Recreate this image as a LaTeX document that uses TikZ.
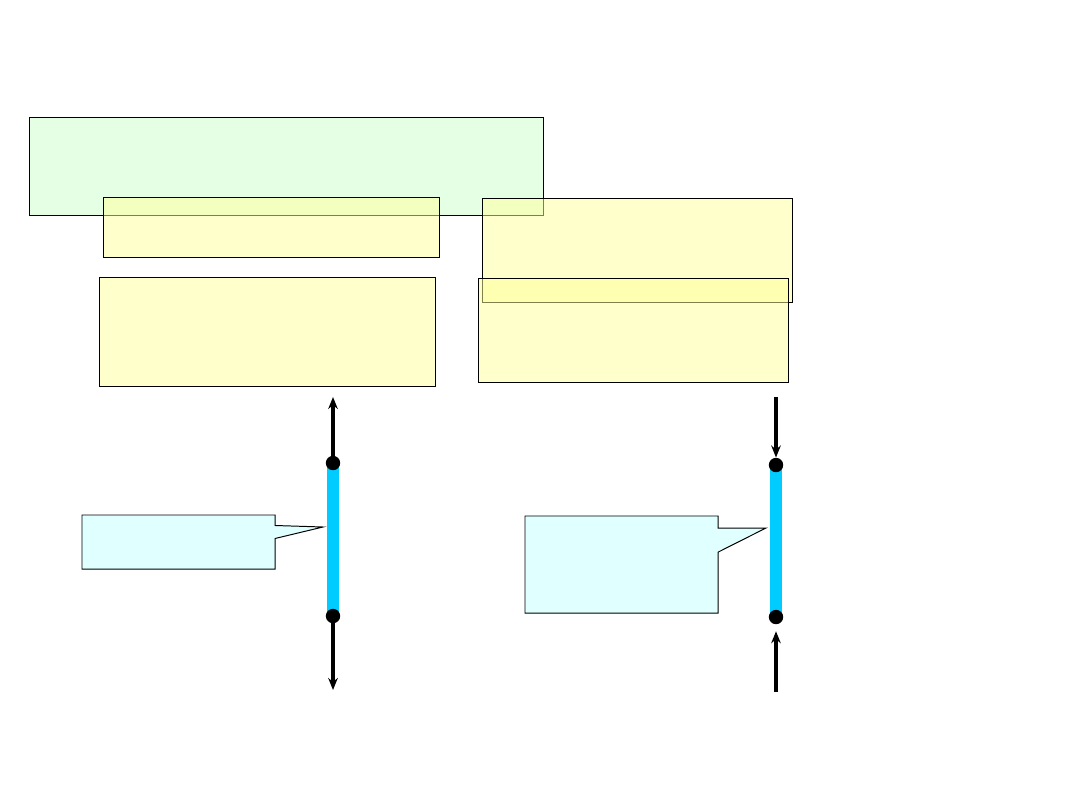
\documentclass[tikz,border=0pt]{standalone}
\usepackage{tikz}
\usetikzlibrary{arrows.meta, positioning, shapes.callouts, backgrounds}

\begin{document}
\begin{tikzpicture}[x=0.025cm, y=-0.025cm,
      box/.style={draw, line width=0.7pt, anchor=north west, outer sep=0pt,
                  inner sep=0pt, fill opacity=0.5},
      topbox/.style={box, fill={rgb,255:red,204;green,255;blue,204}},
      yelbox/.style={box, fill={rgb,255:red,255;green,255;blue,153}},
      note/.style={rectangle callout, draw, line width=0.7pt, anchor=north west,
                   outer sep=0pt, inner sep=0pt, minimum width=4.825cm,
                   fill={rgb,255:red,224;green,255;blue,255}},
      dot/.style={circle, fill=black, inner sep=0pt, minimum size=0.36cm},
      bar/.style={line width=8.4pt, draw={rgb,255:red,0;green,204;blue,255}},
      flow/.style={-{Stealth[length=3mm, width=2.4mm, inset=1mm]}, line width=2.4pt}]
    \useasboundingbox (0,0) rectangle (1080,810);
    % boxes
    \node[topbox, minimum width=12.85cm, minimum height=2.45cm] (head) at (29,117) {};
    \node[yelbox, minimum width=8.4cm, minimum height=1.5cm] (lefta) at (103,197) {};
    \node[yelbox, minimum width=7.75cm, minimum height=2.6cm] (righta) at (482,198) {};
    \node[yelbox, minimum width=8.4cm, minimum height=2.725cm] (leftb) at (99,277) {};
    \node[yelbox, minimum width=7.75cm, minimum height=2.6cm] (rightb) at (478,278) {};
    % left member
    \node[dot] (ltop) at (333,463) {};
    \node[dot] (lbot) at (333,616) {};
    \coordinate (lup) at (333,397);
    \coordinate (ldown) at (333,690);
    \coordinate (lpoint) at (323,527);
    % right member
    \node[dot] (rtop) at (776,465) {};
    \node[dot] (rbot) at (776,617) {};
    \coordinate (rup) at (776,397);
    \coordinate (rdown) at (776,692);
    \coordinate (rpoint) at (766,528);
    \begin{scope}[on background layer]
      \draw[bar] (ltop.center) -- (lbot.center);
      \draw[bar] (rtop.center) -- (rbot.center);
    \end{scope}
    \draw[flow] (ltop) -- (lup);
    \draw[flow] (lbot) -- (ldown);
    \draw[flow] (rup) -- (rtop);
    \draw[flow, shorten >=0.17cm] (rdown) -- (rbot);
    % callouts
    \node[note, minimum height=1.35cm, callout absolute pointer={(lpoint)},
          callout pointer width=3.25mm] (lnote) at (82,515) {};
    \node[note, minimum height=2.425cm, callout absolute pointer={(rpoint)},
          callout pointer width=6mm] (rnote) at (525,516) {};
\end{tikzpicture}
\end{document}
